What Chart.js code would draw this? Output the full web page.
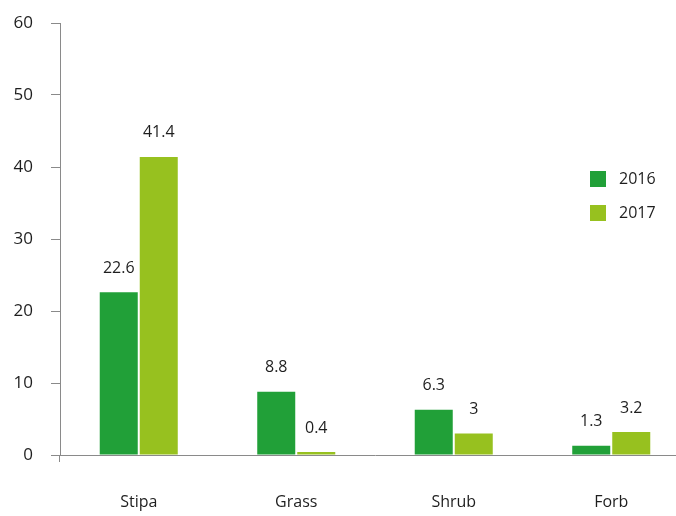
<!DOCTYPE html>
<html><head><meta charset="utf-8">
<script src="https://cdn.jsdelivr.net/npm/chart.js@4/dist/chart.umd.min.js"></script>
<style>
html,body{margin:0;padding:0;background:#fff;overflow:hidden;width:676px;height:516px;}
#wrap{position:absolute;left:0;top:0;width:690px;height:516px;}
</style></head>
<body><div id="wrap"><canvas id="c" width="690" height="516"></canvas></div>
<script>
const categories = ["Stipa", "Grass", "Shrub", "Forb"];
const values2016 = [22.6, 8.8, 6.3, 1.3];
const values2017 = [41.4, 0.4, 3, 3.2];
const seriesNames = ["2016", "2017"];
const yTicks = [0, 10, 20, 30, 40, 50, 60];

const colors = ["#21a038", "#97c11f"];
const FONT = "'Open Sans', 'Lato', sans-serif";

const labelPlugin = {
  id: 'labels',
  afterDatasetsDraw(chart) {
    const ctx = chart.ctx;
    ctx.save();
    ctx.font = "16px " + FONT;
    ctx.fillStyle = "#1e1e1e";
    ctx.textAlign = "center";
    ctx.textBaseline = "middle";
    chart.data.datasets.forEach((ds, di) => {
      chart.getDatasetMeta(di).data.forEach((bar, i) => {
        ctx.fillText(String(ds.data[i]), bar.x, bar.y - 24);
      });
    });
    const ya = chart.scales.y;
    ctx.strokeStyle = "#8a8a8a";
    ctx.lineWidth = 1;
    ctx.beginPath();
    ctx.moveTo(ya.right - 0.5, ya.bottom);
    ctx.lineTo(ya.right - 0.5, ya.bottom + 7);
    ctx.stroke();
    const lx = 590, ly = [171, 205];
    chart.data.datasets.forEach((ds, di) => {
      ctx.fillStyle = ds.backgroundColor;
      ctx.fillRect(lx, ly[di], 16, 16);
      ctx.fillStyle = "#1e1e1e";
      ctx.textAlign = "left";
      ctx.fillText(ds.label, lx + 29, ly[di] + 8);
    });
    ctx.restore();
  }
};

new Chart(document.getElementById('c'), {
  type: 'bar',
  data: {
    labels: categories,
    datasets: [
      { label: seriesNames[0], data: values2016, backgroundColor: colors[0] },
      { label: seriesNames[1], data: values2017, backgroundColor: colors[1] }
    ]
  },
  options: {
    responsive: false,
    animation: false,
    devicePixelRatio: 1,
    layout: { padding: { top: 23, right: 0, left: 0, bottom: 0 } },
    datasets: { bar: { barPercentage: 0.95, categoryPercentage: 0.508 } },
    plugins: { legend: { display: false }, tooltip: { enabled: false } },
    scales: {
      x: {
        grid: { display: false },
        border: { display: true, color: "#8a8a8a", width: 1 },
        ticks: { color: "#1e1e1e", font: { family: FONT, size: 16 }, padding: 30 },
        afterFit(s) { s.height = 61; s.paddingLeft = 0; s.paddingRight = 0; }
      },
      y: {
        min: 0, max: 60,
        afterBuildTicks(s) { s.ticks = yTicks.map(v => ({ value: v })); },
        grid: { display: true, drawOnChartArea: false, tickLength: 9, color: "#8a8a8a" },
        border: { display: true, color: "#8a8a8a", width: 1 },
        ticks: { color: "#1e1e1e", font: { family: FONT, size: 17 }, padding: 18 },
        afterFit(s) { s.width = 60; s.paddingTop = 0; s.paddingBottom = 0; }
      }
    }
  },
  plugins: [labelPlugin]
});
</script></body></html>
